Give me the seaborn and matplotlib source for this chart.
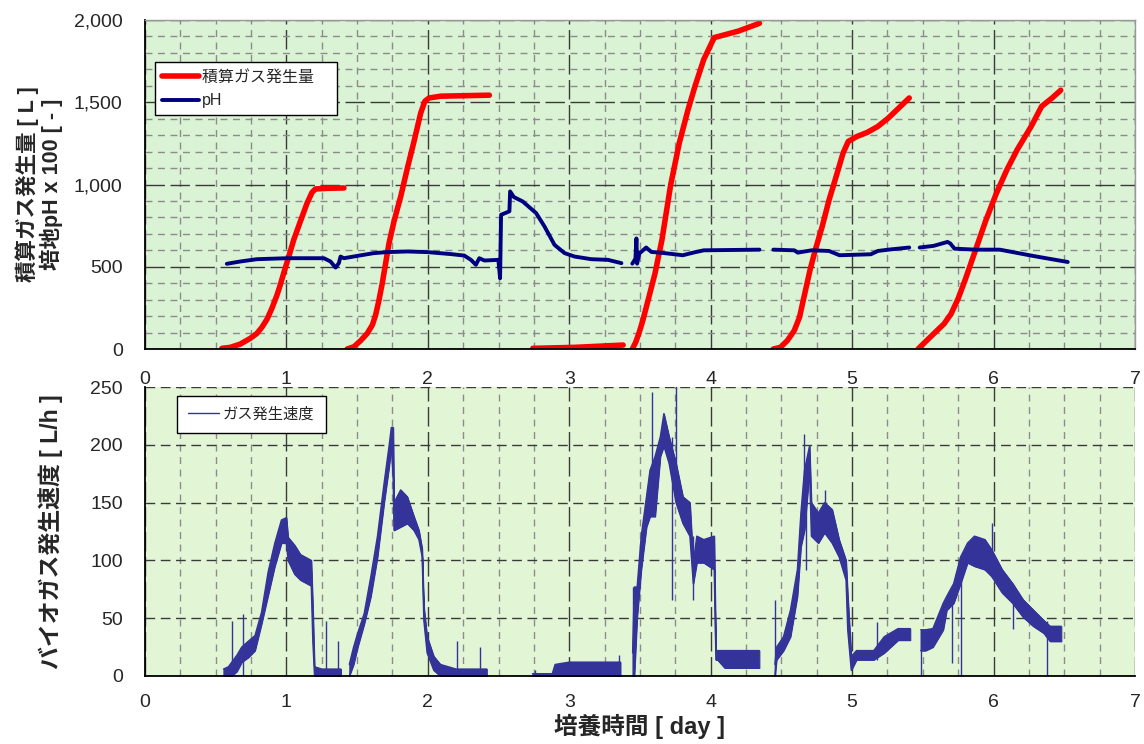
import numpy as np
import matplotlib
matplotlib.use("Agg")
import matplotlib.pyplot as plt
import seaborn as sns
from matplotlib.ticker import StrMethodFormatter

# Cumulative gas [L], one list per batch
gas_days = [
    [0.544, 0.603, 0.674, 0.745, 0.792, 0.827, 0.863, 0.898, 0.934, 0.957, 0.981, 1.017,
     1.052, 1.099, 1.147, 1.182, 1.206, 1.288, 1.407],
    [1.430, 1.478, 1.525, 1.572, 1.608, 1.631, 1.655, 1.678, 1.702, 1.726, 1.761, 1.809,
     1.856, 1.903, 1.950, 1.979, 2.009, 2.092, 2.435],
    [2.742, 3.038, 3.381],
    [3.446, 3.470, 3.495, 3.520, 3.557, 3.606, 3.655, 3.717, 3.778, 3.840, 3.889, 3.951,
     4.025, 4.197, 4.345],
    [4.443, 4.493, 4.542, 4.591, 4.628, 4.665, 4.702, 4.739, 4.788, 4.837, 4.887, 4.936,
     4.973, 5.034, 5.108, 5.182, 5.256, 5.330, 5.404],
    [5.466, 5.515, 5.576, 5.650, 5.700, 5.749, 5.798, 5.872, 5.946, 6.020, 6.094, 6.167,
     6.266, 6.340, 6.414, 6.475],
]
gas_vals = [
    [4, 10, 30, 65, 95, 132, 181, 248, 329, 390, 461, 562, 664, 776, 888, 953, 973, 977, 979],
    [0, 14, 51, 95, 146, 207, 298, 400, 522, 644, 776, 929, 1101, 1264, 1435, 1506, 1526,
     1537, 1543],
    [4, 10, 24],
    [0, 41, 102, 173, 295, 458, 661, 997, 1252, 1455, 1597, 1760, 1893, 1933, 1980],
    [0, 10, 51, 112, 193, 336, 478, 600, 743, 906, 1048, 1191, 1262, 1292, 1317, 1353, 1404,
     1465, 1526],
    [0, 41, 92, 153, 214, 305, 417, 600, 783, 946, 1089, 1211, 1353, 1475, 1526, 1573],
]

# Medium pH x 100
ph_days = [
    [0.579, 0.674, 0.792, 1.005, 1.265, 1.312, 1.348, 1.371, 1.383, 1.407, 1.501, 1.619,
     1.714, 1.856, 1.998, 2.163, 2.258, 2.305, 2.340, 2.364, 2.400, 2.499, 2.511, 2.518,
     2.577, 2.582, 2.608, 2.671, 2.766, 2.825, 2.896, 2.967, 3.038, 3.156, 3.274, 3.369],
    [3.446, 3.468, 3.475, 3.480, 3.495, 3.544, 3.581, 3.643, 3.803, 3.877, 3.951, 4.345],
    [4.443, 4.591, 4.616, 4.714, 4.837, 4.911, 5.133, 5.182, 5.256, 5.404],
    [5.478, 5.576, 5.675, 5.695, 5.724, 5.872, 6.044, 6.291, 6.525],
]
ph_vals = [
    [518, 532, 546, 552, 552, 532, 495, 522, 562, 552, 566, 583,
     589, 593, 589, 577, 568, 542, 512, 552, 538, 542, 430, 816,
     837, 958, 924, 897, 826, 745, 633, 583, 562, 546, 542, 522],
    [519, 549, 672, 519, 580, 617, 590, 586, 570, 586, 600, 604],
    [604, 600, 586, 600, 596, 570, 576, 596, 604, 617],
    [617, 627, 651, 641, 610, 604, 604, 564, 529],
]

# Gas production rate [L/h]: lower / upper edge of the noisy trace
rate_days = [
    [0.555, 0.59, 0.614, 0.65, 0.684, 0.73, 0.778, 0.824, 0.871, 0.918, 0.965, 1.0,
     1.012, 1.059, 1.10, 1.176, 1.187, 1.199, 1.25, 1.30, 1.386],
    [1.445, 1.475, 1.504, 1.55, 1.597, 1.644, 1.691, 1.726, 1.742, 1.755, 1.761, 1.808,
     1.855, 1.902, 1.937, 1.96, 1.972, 1.995, 2.042, 2.089, 2.2, 2.3, 2.417],
    [2.74, 2.88, 2.90, 3.0, 3.2, 3.362],
    [3.448, 3.46, 3.48, 3.509, 3.546, 3.571, 3.607, 3.644, 3.669, 3.706, 3.755, 3.804,
     3.853, 3.877, 3.902, 3.951, 4.025, 4.037, 4.049, 4.10, 4.20, 4.344],
    [4.454, 4.466, 4.515, 4.564, 4.613, 4.638, 4.663, 4.699, 4.712, 4.761, 4.805, 4.859,
     4.908, 4.957, 4.969, 4.994, 5.031, 5.153, 5.227, 5.325, 5.411],
    [5.485, 5.52, 5.571, 5.644, 5.669, 5.718, 5.767, 5.816, 5.865, 5.939, 5.988, 6.061,
     6.135, 6.209, 6.282, 6.356, 6.40, 6.479],
]
rate_lo = [
    [0, 0, 0, 4, 12, 16, 22, 45, 70, 95, 115, 115, 100, 88, 83, 78, 30, 0, 0, 0, 0],
    [0, 10, 25, 45, 69, 103, 150, 181, 199, 170, 126, 129, 132, 126, 118, 103, 48, 20, 5, 0, 0, 0, 0],
    [0, 0, 0, 0, 0, 0],
    [0, 0, 51, 92, 129, 138, 138, 190, 199, 184, 150, 132, 121, 80, 98, 98, 92, 14, 14, 7, 7, 7],
    [0, 14, 22, 34, 69, 112, 126, 178, 121, 115, 124, 115, 103, 83, 40, 5, 14, 14, 20, 31, 31],
    [22, 22, 25, 40, 57, 63, 80, 98, 95, 92, 86, 72, 63, 51, 43, 37, 30, 30],
]
rate_hi = [
    [6, 8, 12, 18, 25, 30, 35, 55, 90, 115, 135, 137, 120, 113, 105, 100, 60, 8, 6, 6, 6],
    [10, 25, 37, 54, 86, 121, 167, 199, 215, 215, 150, 161, 155, 138, 126, 110, 60, 34, 17, 10, 6, 6, 6],
    [2, 2, 10, 12, 12, 12],
    [20, 77, 77, 121, 155, 178, 190, 207, 227, 207, 184, 155, 150, 98, 121, 118, 121, 22, 22, 22, 22, 22],
    [10, 25, 34, 57, 92, 141, 178, 199, 150, 141, 150, 144, 118, 100, 70, 17, 22, 22, 34, 41, 41],
    [40, 40, 41, 63, 69, 80, 103, 115, 121, 118, 109, 92, 80, 66, 57, 48, 43, 43],
]

# Single spikes in the rate trace
spike_days = [0.614, 0.696, 1.281, 1.363, 2.206, 2.370, 2.756, 3.354, 3.453, 3.588, 3.725,
              3.755, 3.877, 4.454, 4.663, 4.675, 4.805, 5.178, 5.485, 5.706, 5.767, 5.988,
              6.135, 6.375]
spike_lo = [0, 0, 0, 0, 0, 0, 0, 0, 0, 138, 66, 150, 66, 0, 126, 92, 124, 14, 0, 11, 0, 86, 41, 0]
spike_hi = [48, 54, 48, 30, 30, 25, 5, 18, 77, 246, 207, 252, 121, 66, 209, 178, 161, 47, 40, 69, 103, 132, 80, 48]

day_ticks = [0, 1, 2, 3, 4, 5, 6, 7]

sns.set_style("white")
plt.rcParams["font.family"] = ["Liberation Sans", "Noto Sans CJK JP", "DejaVu Sans"]

fig = plt.figure(figsize=(11.44, 7.44), dpi=100)
ax1 = fig.add_axes([0.1267, 0.5309, 0.8654, 0.4422])
ax2 = fig.add_axes([0.1267, 0.0914, 0.8654, 0.3884])

# ---- top: cumulative gas and pH
ax1.set_facecolor("#daf3d5")
for i, (d, v) in enumerate(zip(gas_days, gas_vals)):
    sns.lineplot(x=d, y=v, ax=ax1, color="#ff0000", lw=4, sort=False, estimator=None,
                 label="積算ガス発生量\u3000" if i == 0 else "_nolegend_")
for i, (d, v) in enumerate(zip(ph_days, ph_vals)):
    sns.lineplot(x=d, y=v, ax=ax1, color="#000080", lw=2.8, sort=False, estimator=None,
                 label="pH" if i == 0 else "_nolegend_")

ax1.set_xlim(0, 7)
ax1.set_ylim(0, 2000)
ax1.set_xticks(day_ticks)
ax1.set_xticks(np.arange(0, 7.01, 0.25), minor=True)
ax1.set_yticks([0, 500, 1000, 1500, 2000])
ax1.set_yticks(np.arange(0, 2001, 100), minor=True)
ax1.yaxis.set_major_formatter(StrMethodFormatter("{x:,.0f}"))
ax1.set_axisbelow(True)
ax1.grid(which="major", color="#3a3a3a", linestyle=(0, (14, 4)), lw=1)
ax1.grid(which="minor", color="#8c8c8c", linestyle=(0, (5, 4)), lw=1)
ax1.tick_params(axis="x", which="both", length=0, pad=16, labelsize=14)
ax1.tick_params(axis="y", which="both", direction="in", length=5, pad=16, labelsize=14)
ax1.set_xlabel("")
ax1.set_ylabel("積算ガス発生量 [ L ]\n培地pH x 100 [ - ]", fontsize=15.5, fontweight="bold",
               linespacing=1.0)
ax1.yaxis.set_label_coords(-0.083, 0.5)
for s in ["left", "bottom"]:
    ax1.spines[s].set_color("black")
    ax1.spines[s].set_linewidth(1.3)
for s in ["top", "right"]:
    ax1.spines[s].set_color("#999999")
    ax1.spines[s].set_linewidth(1)
leg1 = ax1.legend(loc="upper left", bbox_to_anchor=(0.010, 0.872), borderaxespad=0,
                  fontsize=11.5, frameon=True, fancybox=False, edgecolor="black",
                  handlelength=2.3, handletextpad=0.2, borderpad=0.45, labelspacing=0.55)
leg1.get_frame().set_linewidth(1)
leg1.get_frame().set_alpha(1)

# ---- bottom: gas production rate
ax2.set_facecolor("#e2f6d6")
rate_color = "#333399"
for i, (d, lo, hi) in enumerate(zip(rate_days, rate_lo, rate_hi)):
    ax2.fill_between(d, lo, hi, color=rate_color, lw=0.8)
    sns.lineplot(x=d, y=hi, ax=ax2, color=rate_color, lw=1, sort=False, estimator=None,
                 label="ガス発生速度" if i == 0 else "_nolegend_")
    sns.lineplot(x=d, y=lo, ax=ax2, color=rate_color, lw=1, sort=False, estimator=None,
                 label="_nolegend_")
ax2.vlines(spike_days, spike_lo, spike_hi, color=rate_color, lw=1)

ax2.set_xlim(0, 7)
ax2.set_ylim(0, 250)
ax2.set_xticks(day_ticks)
ax2.set_xticks(np.arange(0, 7.01, 0.25), minor=True)
ax2.set_yticks([0, 50, 100, 150, 200, 250])
ax2.set_axisbelow(True)
ax2.grid(which="major", axis="y", color="#3a3a3a", linestyle=(0, (7, 4)), lw=1)
ax2.grid(which="major", axis="x", color="#3a3a3a", linestyle=(0, (14, 4)), lw=1)
ax2.grid(which="minor", axis="x", color="#8c8c8c", linestyle=(0, (5, 4)), lw=1)
ax2.tick_params(axis="x", which="both", length=0, pad=13, labelsize=14)
ax2.tick_params(axis="y", which="both", direction="in", length=5, pad=16, labelsize=14)
ax2.set_xlabel("培養時間 [ day ]", fontsize=17, fontweight="bold", labelpad=2)
ax2.set_ylabel("バイオガス発生速度 [ L/h ]", fontsize=16.5, fontweight="bold")
ax2.yaxis.set_label_coords(-0.083, 0.5)
for s in ["left", "bottom"]:
    ax2.spines[s].set_color("black")
    ax2.spines[s].set_linewidth(1.3)
for s in ["top", "right"]:
    ax2.spines[s].set_visible(False)
leg2 = ax2.legend(loc="upper left", bbox_to_anchor=(0.0323, 0.969), borderaxespad=0,
                  fontsize=11, frameon=True, fancybox=False, edgecolor="black",
                  handlelength=2.0, handletextpad=0.25, borderpad=0.75)
leg2.get_frame().set_linewidth(1)
leg2.get_frame().set_alpha(1)

fig.savefig("out.png", dpi=100)
